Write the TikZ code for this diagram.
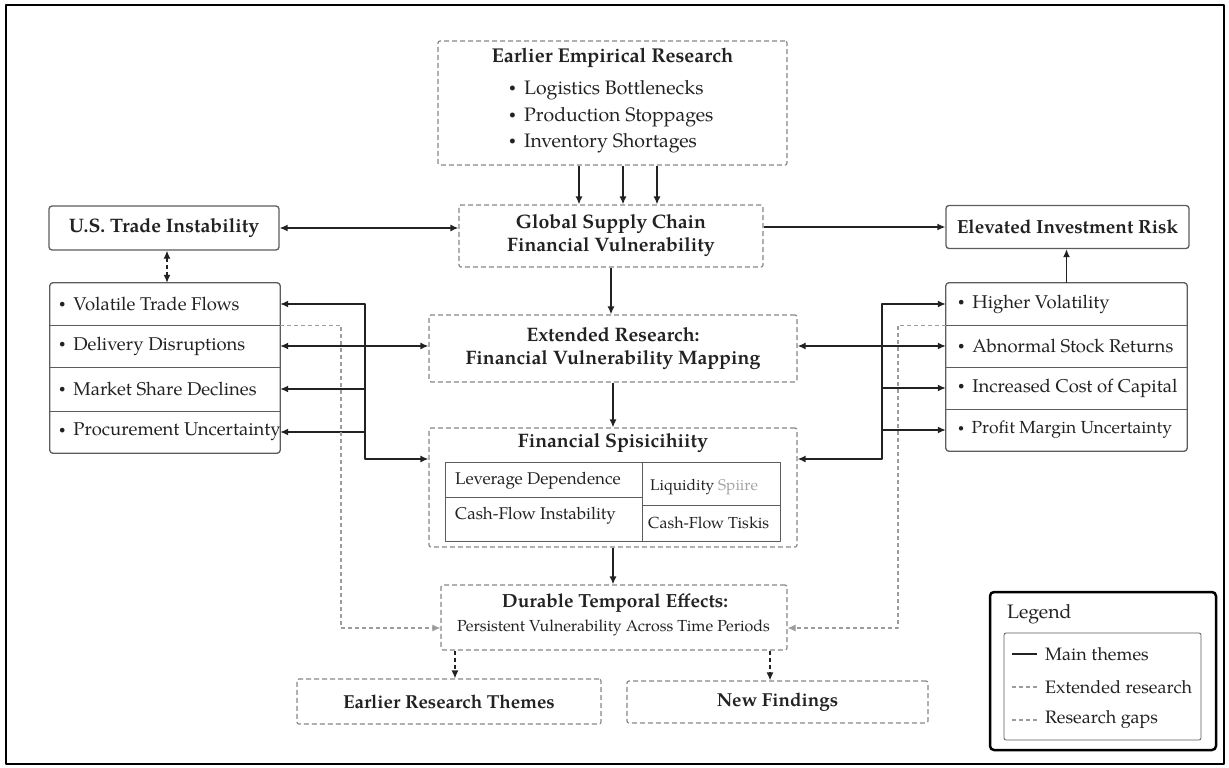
\documentclass[tikz,border=0pt]{standalone}
\usepackage{fontspec}
\setmainfont{TeX Gyre Pagella}
\usetikzlibrary{arrows.meta}
\definecolor{ink}{HTML}{222222}
\definecolor{boxline}{HTML}{5C5C5C}
\definecolor{dashline}{HTML}{878787}
\definecolor{gapline}{HTML}{9C9C9C}
\definecolor{faint}{HTML}{A3A3A3}
% small list dot
\newcommand{\itemdot}{\raisebox{0.3ex}{\scalebox{0.62}{\textbullet}}\hspace{0.42em}}
\begin{document}
\begin{tikzpicture}[x=1pt,y=-1pt,line join=round,
  every node/.style={text=ink,inner sep=0pt},
  headfont/.style={font=\fontsize{19.5}{23}\selectfont\bfseries},
  itemfont/.style={font=\fontsize{19.5}{23}\selectfont},
  stackfont/.style={font=\fontsize{18.5}{22}\selectfont},
  cellfont/.style={font=\fontsize{17}{20}\selectfont},
  smallfont/.style={font=\fontsize{16}{19}\selectfont},
  legendfont/.style={font=\fontsize{18}{21}\selectfont},
  dbox/.style={draw=dashline,line width=1.2pt,dash pattern=on 5pt off 3pt,rounded corners=2pt},
  sbox/.style={draw=boxline,line width=1.3pt,rounded corners=3pt},
  rowcell/.style={minimum width=#1},
  mainline/.style={draw=ink,line width=1.4pt},
  tip/.style={-{Latex[length=8pt,width=7pt]}},
  twoway/.style={{Latex[length=8pt,width=7pt]}-{Latex[length=8pt,width=7pt]}},
  gapline/.style={draw=gapline,line width=1.1pt,dash pattern=on 4pt off 3pt},
  darkdash/.style={draw=ink,line width=1.3pt,dash pattern=on 4pt off 3pt}]
\useasboundingbox (0,0) rectangle (1229,768);
\draw[line width=2.5pt] (6,5) rectangle (1224,764);

% ---------- top block ----------
\node[dbox,minimum width=349pt,minimum height=124pt] (eer) at (612.5,103) {};
\node[font=\fontsize{20}{23}\selectfont\bfseries] (eert) at (612.5,58) {Earlier Empirical Research};
\node[itemfont,anchor=west] (eer1) at (509,90) {\itemdot Logistics Bottlenecks};
\node[itemfont,anchor=west] (eer2) at (509,117) {\itemdot Production Stoppages};
\node[itemfont,anchor=west] (eer3) at (509,143) {\itemdot Inventory Shortages};

\node[dbox,headfont,align=center,minimum width=304pt,minimum height=62pt] (gsc) at (611,236)
  {Global Supply Chain\\Financial Vulnerability};
\node[sbox,headfont,minimum width=230pt,minimum height=44pt] (us) at (164,228) {U.S. Trade Instability};
\node[sbox,font=\fontsize{19}{22}\selectfont\bfseries,minimum width=243pt,minimum height=43pt] (eir) at (1067.5,227) {Elevated Investment Risk};

% ---------- left stack ----------
\node[rowcell=230pt,minimum height=42pt] (lsa) at (165,304) {};
\node[rowcell=230pt,minimum height=42pt] (lsb) at (165,346) {};
\node[rowcell=230pt,minimum height=44pt] (lsc) at (165,389) {};
\node[rowcell=230pt,minimum height=42pt] (lsd) at (165,432) {};
\draw[sbox] (lsa.north west) rectangle (lsd.south east);
\draw[boxline,line width=1pt] (lsa.south west) -- (lsa.south east)
  (lsb.south west) -- (lsb.south east) (lsc.south west) -- (lsc.south east);
\node[stackfont,anchor=west] (lsat) at (59,304) {\itemdot Volatile Trade Flows};
\node[stackfont,anchor=west] (lsbt) at (59,346) {\itemdot Delivery Disruptions};
\node[stackfont,anchor=west] (lsct) at (59,389) {\itemdot Market Share Declines};
\node[stackfont,anchor=west] (lsdt) at (59,432) {\itemdot Procurement Uncertainty};

% ---------- right stack ----------
\node[rowcell=241pt,minimum height=42pt] (rsa) at (1066.5,304) {};
\node[rowcell=241pt,minimum height=42pt] (rsb) at (1066.5,346) {};
\node[rowcell=241pt,minimum height=42pt] (rsc) at (1066.5,388) {};
\node[rowcell=241pt,minimum height=42pt] (rsd) at (1066.5,430) {};
\draw[sbox] (rsa.north west) rectangle (rsd.south east);
\draw[boxline,line width=1pt] (rsa.south west) -- (rsa.south east)
  (rsb.south west) -- (rsb.south east) (rsc.south west) -- (rsc.south east);
\node[stackfont,anchor=west] (rsat) at (958,304) {\itemdot Higher Volatility};
\node[stackfont,anchor=west] (rsbt) at (958,346) {\itemdot Abnormal Stock Returns};
\node[stackfont,anchor=west] (rsct) at (958,388) {\itemdot Increased Cost of Capital};
\node[font=\fontsize{17.5}{21}\selectfont,anchor=west] (rsdt) at (958,430) {\itemdot Profit Margin Uncertainty};

% ---------- centre column ----------
\node[dbox,headfont,align=center,minimum width=368pt,minimum height=67pt] (ext) at (613,348.5)
  {Extended Research:\\Financial Vulnerability Mapping};
\node[dbox,minimum width=368pt,minimum height=119pt] (fin) at (613,487.5) {};
\node[headfont] (fint) at (613,443) {Financial Spisicihiity};
% inner table
\node[draw=boxline,line width=1pt,minimum width=197pt,minimum height=35pt] (ctl) at (543.5,479.5) {};
\node[draw=boxline,line width=1pt,minimum width=197pt,minimum height=44pt] (cbl) at (543.5,519) {};
\node[draw=boxline,line width=1pt,minimum width=138pt,minimum height=43pt] (ctr) at (711,483.5) {};
\node[draw=boxline,line width=1pt,minimum width=138pt,minimum height=36pt] (cbr) at (711,523) {};
\node[cellfont,anchor=west] (ctlt) at (455,481) {Leverage Dependence};
\node[cellfont,anchor=west] (cblt) at (455,516) {Cash-Flow Instability};
\node[font=\fontsize{15.5}{18}\selectfont,anchor=west] (ctrt) at (650,487) {Liquidity \textcolor{faint}{Spiire}};
\node[smallfont,anchor=west] (cbrt) at (648,523) {Cash-Flow Tiskis};

\node[dbox,minimum width=346pt,minimum height=65pt] (dur) at (614,617.5) {};
\node[font=\fontsize{19}{22}\selectfont\bfseries] (durt) at (615,603) {Durable Temporal Effects:};
\node[smallfont] (durs) at (613.5,628) {Persistent Vulnerability Across Time Periods};

\node[dbox,font=\fontsize{18.8}{22}\selectfont\bfseries,minimum width=304pt,minimum height=45pt] (ert) at (449,701.5) {Earlier Research Themes};
\node[dbox,font=\fontsize{18.8}{22}\selectfont\bfseries,minimum width=301pt,minimum height=42pt] (nf) at (777.5,702) {New Findings};

% ---------- connectors ----------
\foreach \dx in {-33.5,10.5,44.5}
  \draw[mainline,tip] ([xshift=\dx pt]eer.south) -- ([xshift=\dx pt]eer.south |- gsc.north);
\draw[mainline,twoway] (us.east) -- (us.east -| gsc.west);
\draw[mainline,tip] (gsc.east |- eir.west) -- (eir.west);
\draw[mainline,tip] (rsa.north) -- (rsa.north |- eir.south);
\draw[darkdash,twoway] ([xshift=3pt]us.south) -- ([xshift=3pt]us.south |- lsa.north);
\draw[mainline,tip] (gsc.south) -- (gsc.south |- ext.north);
\draw[mainline,tip] (ext.south) -- (ext.south |- fin.north);
\draw[mainline,tip] (fin.south) -- (fin.south |- dur.north);

% left bus
\coordinate (lb) at (365,459);
\draw[mainline,twoway] (lsa.east) -| (lb) -- (lb -| fin.west);
\draw[mainline,tip] (lb |- lsc.east) -- (lsc.east);
\draw[mainline,tip] (lb |- lsd.east) -- (lsd.east);
\draw[mainline,twoway] (lsb.east) -- (lsb.east -| ext.west);
% right bus
\coordinate (rb) at (882,459);
\draw[mainline,twoway] (rsa.west) -| (rb) -- (rb -| fin.east);
\draw[mainline,tip] (rb |- rsc.west) -- (rsc.west);
\draw[mainline,tip] (rb |- rsd.west) -- (rsd.west);
\draw[mainline,twoway] (ext.east |- rsb.west) -- (rsb.west);

% research gaps
\coordinate (lg) at (341,628);
\draw[gapline,tip] (lsa.south east) -| (lg) -- (lg -| dur.west);
\coordinate (rg) at (898,628);
\draw[gapline,tip] (rsa.south west) -| (rg) -- (rg -| dur.east);

% to the bottom boxes
\draw[darkdash,tip] ([xshift=-159pt]dur.south) -- ([xshift=-159pt]dur.south |- ert.north);
\draw[darkdash,tip] ([xshift=156pt]dur.south) -- ([xshift=156pt]dur.south |- nf.north);

% ---------- legend ----------
\node[draw=black,line width=2.5pt,rounded corners=4pt,minimum width=226pt,minimum height=158pt] (leg) at (1103,671) {};
\node[draw=boxline,line width=0.8pt,rounded corners=2pt,minimum width=197pt,minimum height=107pt] (legin) at (1102.5,686.5) {};
\node[font=\fontsize{19.5}{22}\selectfont,anchor=west] (legt) at (1007,614) {Legend};
\node[legendfont,anchor=west] (leg1) at (1045,654) {Main themes};
\node[legendfont,anchor=west] (leg2) at (1045,687) {Extended research};
\node[legendfont,anchor=west] (leg3) at (1045,720) {Research gaps};
\draw[ink,line width=1.1pt] ([xshift=-33pt]leg1.west) -- ([xshift=-8pt]leg1.west);
\draw[gapline] ([xshift=-33pt]leg2.west) -- ([xshift=-8pt]leg2.west);
\draw[gapline] ([xshift=-33pt]leg3.west) -- ([xshift=-8pt]leg3.west);
\end{tikzpicture}
\end{document}
